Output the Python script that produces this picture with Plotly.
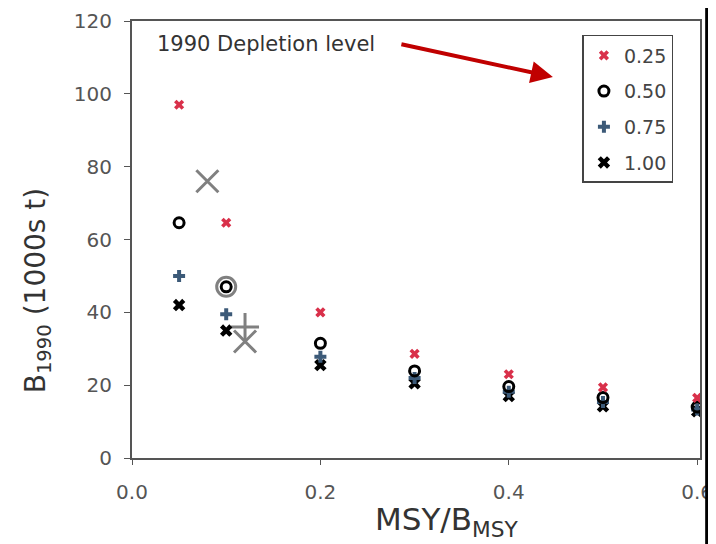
import plotly.graph_objects as go

x_vals = [0.05, 0.1, 0.2, 0.3, 0.4, 0.5, 0.6]
dep_025 = [97, 64.6, 40, 28.6, 23, 19.4, 16.5]
dep_050 = [64.6, 47, 31.5, 23.9, 19.6, 16.6, 14]
dep_075 = [50, 39.5, 27.8, 22, 18.2, 15.4, 13.3]
dep_100 = [42, 35, 25.5, 20.5, 17, 14.2, 12.8]

est_x = [0.08, 0.1, 0.12, 0.12]
est_y = [76, 47, 36, 32]

series_names = ["0.25", "0.50", "0.75", "1.00"]

FONT = "DejaVu Sans, Arial, sans-serif"

fig = go.Figure()

# grey large markers (behind)
grey_syms = ["x-thin-open", "circle-open", "cross-thin-open", "x-thin-open"]
grey_sizes = [22, 19, 20, 22]
for xi, yi, s, sz in zip(est_x, est_y, grey_syms, grey_sizes):
    fig.add_trace(go.Scatter(x=[xi], y=[yi], mode="markers", showlegend=False,
                             marker=dict(symbol=s, size=sz, color="#808080",
                                         line=dict(color="#808080", width=3))))

styles = [
    dict(symbol="x", size=9, color="#d9304a", line=dict(width=0)),
    dict(symbol="circle-open", size=10, color="black", line=dict(color="black", width=3)),
    dict(symbol="cross", size=10, color="#3c5a78", line=dict(width=0)),
    dict(symbol="x", size=11, color="black", line=dict(width=0)),
]
order = [3, 2, 1, 0]
all_y = [dep_025, dep_050, dep_075, dep_100]
for i in order:
    fig.add_trace(go.Scatter(x=x_vals, y=all_y[i], mode="markers", name=series_names[i],
                             legendgroup=series_names[i], legendrank=i + 1,
                             marker=styles[i]))

fig.update_layout(
    width=708, height=536,
    margin=dict(l=124, r=16, t=13, b=86),
    paper_bgcolor="white", plot_bgcolor="white",
    font=dict(family=FONT, color="#444", size=16),
    showlegend=True,
    legend=dict(x=0.793, y=0.968, xanchor="left", yanchor="top",
                bgcolor="white", bordercolor="#444", borderwidth=1.5,
                font=dict(size=19, color="#444"), tracegroupgap=8,
                itemwidth=30),
    xaxis=dict(range=[0, 0.603], tickvals=[0, 0.2, 0.4, 0.6],
               ticktext=["0.0", "0.2", "0.4", "0.6"], showgrid=False, zeroline=False,
               showline=True, linecolor="#555", linewidth=2, mirror=True,
               ticks="outside", ticklen=5, tickcolor="#555", automargin=False,
               ticklabelstandoff=10,
               tickfont=dict(size=20, color="#555")),
    yaxis=dict(range=[0, 120], tickvals=[0, 20, 40, 60, 80, 100, 120], showgrid=False,
               zeroline=False, showline=True, linecolor="#555", linewidth=2, mirror=True,
               ticks="outside", ticklen=6, tickcolor="#555", automargin=False,
               ticklabelstandoff=8,
               tickfont=dict(size=20, color="#555")),
)

# axis titles
fig.add_annotation(text="MSY/B<sub>MSY</sub>", xref="paper", yref="paper",
                   x=0.555, y=-0.146, xanchor="center", yanchor="middle", showarrow=False,
                   font=dict(size=31, color="#333"))
fig.add_annotation(text="B<sub>1990</sub> (1000s t)", xref="paper", yref="paper",
                   x=-0.167, y=0.384, xanchor="center", yanchor="middle", showarrow=False,
                   textangle=-90, font=dict(size=28, color="#333"))

fig.add_annotation(text="1990 Depletion level", xref="paper", yref="paper",
                   x=0.04, y=0.947, xanchor="left", yanchor="middle", showarrow=False,
                   font=dict(size=21, color="#333"))
fig.add_annotation(text="", xref="paper", yref="paper", x=0.741, y=0.872,
                   ax=-153, ay=-33, showarrow=True, arrowhead=2, arrowsize=1.1,
                   arrowwidth=4, arrowcolor="#c00000")

fig.add_shape(type="line", xref="paper", yref="paper", x0=1.0135, x1=1.0135, y0=-0.25, y1=1.05,
              line=dict(color="black", width=5), layer="above")

fig.write_html("out.html")
